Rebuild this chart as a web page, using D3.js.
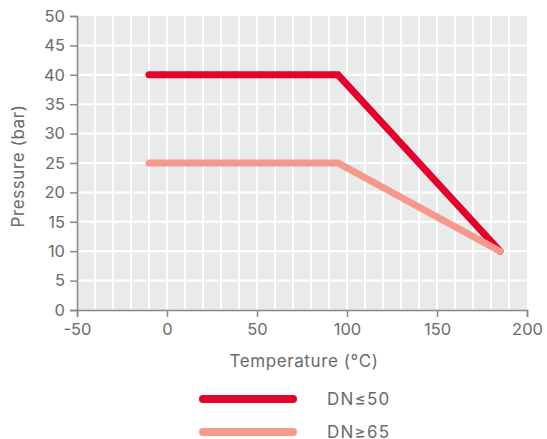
<!DOCTYPE html>
<html><head><meta charset="utf-8">
<script src="https://cdn.jsdelivr.net/npm/d3@7"></script>
<style>body{margin:0;background:#fff;} text{font-family:Inter,"Noto Sans",sans-serif;}</style>
</head><body><svg id="c" width="547" height="439"></svg>
<script>
const seriesNames = ["DN≤50", "DN≥65"];
const temps = [-10, 95, 185];
const dn50 = [40, 40, 10];
const dn65 = [25, 25, 10];
const colors = ["#E4022D", "#F4998B"];
const xTicks = [-50, 0, 50, 100, 150, 200];
const yTicks = [0, 5, 10, 15, 20, 25, 30, 35, 40, 45, 50];

const svg = d3.select("#c");
const x = d3.scaleLinear().domain([-50, 200]).range([77, 527]);
const y = d3.scaleLinear().domain([0, 50]).range([310, 16]);

svg.append("rect").attr("x", x(-50)).attr("y", y(50)).attr("width", x(200)-x(-50)).attr("height", y(0)-y(50)).attr("fill", "#E9EAEA");
const g = svg.append("g");
d3.range(-40, 200, 10).forEach(v => g.append("line").attr("x1", x(v)).attr("x2", x(v)).attr("y1", y(50)).attr("y2", y(0)).attr("stroke", "#fff").attr("stroke-width", 2));
d3.range(5, 50, 5).forEach(v => g.append("line").attr("x1", x(-50)).attr("x2", x(200)).attr("y1", y(v)).attr("y2", y(v)).attr("stroke", "#fff").attr("stroke-width", 2));

const ax = svg.append("g").attr("transform", `translate(0,${y(0)})`).call(d3.axisBottom(x).tickValues(xTicks).tickSize(7).tickPadding(6).tickFormat(d => d < 0 ? "-" + Math.abs(d) : d));
const ay = svg.append("g").attr("transform", `translate(${x(-50)},0)`).call(d3.axisLeft(y).tickValues(yTicks).tickSize(7).tickPadding(5));
[ax, ay].forEach(a => {
  a.select(".domain").attr("stroke", "#888").attr("stroke-width", 1.5);
  a.selectAll(".tick line").attr("stroke", "#888").attr("stroke-width", 1.5);
  a.selectAll(".tick text").attr("fill", "#6a6a6a").attr("font-size", 16.5).attr("font-family", "Inter, 'Noto Sans', sans-serif");
});

const line = d3.line().x(d => x(d[0])).y(d => y(d[1]));
const data = [dn50, dn65];
[0, 1].forEach(i => {
  svg.append("path").datum(temps.map((t, j) => [t, data[i][j]])).attr("d", line)
    .attr("fill", "none").attr("stroke", colors[i]).attr("stroke-width", 7)
    .attr("stroke-linecap", "round").attr("stroke-linejoin", "miter");
});

svg.append("text").attr("x", 304).attr("y", 367).attr("text-anchor", "middle").attr("fill", "#6a6a6a").attr("font-size", 17).attr("letter-spacing", 0.6).text("Temperature (°C)");
svg.append("text").attr("transform", "translate(24,166) rotate(-90)").attr("text-anchor", "middle").attr("fill", "#6a6a6a").attr("font-size", 17).attr("letter-spacing", 0.6).text("Pressure (bar)");

seriesNames.forEach((n, i) => {
  const ly = 399 + i * 33;
  svg.append("line").attr("x1", 203).attr("x2", 293).attr("y1", ly).attr("y2", ly).attr("stroke", colors[i]).attr("stroke-width", 8).attr("stroke-linecap", "round");
  svg.append("text").attr("x", 327).attr("y", ly + 5.5).attr("fill", "#6a6a6a").attr("font-size", 17).attr("letter-spacing", 1.2).text(n);
});
</script></body></html>
